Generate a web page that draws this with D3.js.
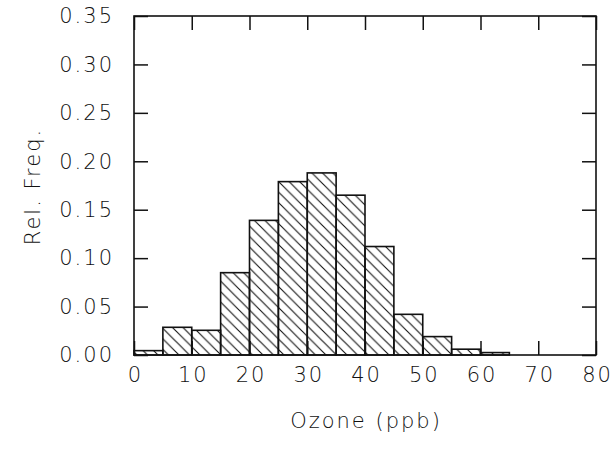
<!DOCTYPE html>
<html>
<head>
<meta charset="utf-8">
<script src="https://cdn.jsdelivr.net/npm/d3@7"></script>
<style>
  body { margin: 0; background: #fff; }
  text { font-family: "DejaVu Sans", sans-serif; font-weight: 200; fill: #111; }
</style>
</head>
<body>
<div id="chart"></div>
<script>
// histogram bins (ppb) and relative frequency
let binStarts = [0, 5, 10, 15, 20, 25, 30, 35, 40, 45, 50, 55, 60]
let binWidth = 5
let relFreq = [0.0045, 0.0286, 0.0255, 0.085, 0.139, 0.179, 0.188, 0.165, 0.112, 0.042, 0.019, 0.006, 0.0025]

let xTicks = [0, 10, 20, 30, 40, 50, 60, 70, 80]
let yTicks = [0, 0.05, 0.10, 0.15, 0.20, 0.25, 0.30, 0.35]

let margin = {top: 16, right: 18, left: 134, bottom: 100}
let width = 614 - margin.left - margin.right
let height = 455 - margin.top - margin.bottom
let fs = 21
let ls = 2

let svg = d3.select('div#chart')
  .append('svg')
    .attr('width', 614)
    .attr('height', 455)

// hatch pattern \\\
let defs = svg.append('defs')
let pat = defs.append('pattern')
  .attr('id', 'hatch')
  .attr('patternUnits', 'userSpaceOnUse')
  .attr('width', 10.5)
  .attr('height', 10.5)
pat.append('path')
  .attr('d', 'M -2,-2 L 12.5,12.5 M -2,8.5 L 2,12.5 M 8.5,-2 L 12.5,2')
  .attr('stroke', '#111')
  .attr('stroke-width', 1.1)

let g = svg.append('g')
  .attr('transform', `translate(${margin.left}, ${margin.top})`)

let x = d3.scaleLinear().domain([0, 80]).range([0, width])
let y = d3.scaleLinear().domain([0, 0.35]).range([height, 0])

let bins = binStarts.map((s, i) => ({x0: s, x1: s + binWidth, v: relFreq[i]}))

g.selectAll('rect.bar')
  .data(bins)
  .enter().append('rect')
  .attr('class', 'bar')
  .attr('x', d => x(d.x0))
  .attr('y', d => y(d.v))
  .attr('width', d => x(d.x1) - x(d.x0))
  .attr('height', d => y(0) - y(d.v))
  .attr('fill', 'url(#hatch)')
  .attr('stroke', '#111')
  .attr('stroke-width', 1.6)

// inward ticks on all four sides
let tickLen = 14
let axes = [
  d3.axisBottom(x).tickValues(xTicks).tickSize(-tickLen).tickSizeOuter(0).tickFormat(d3.format('d')),
  d3.axisTop(x).tickValues(xTicks).tickSize(-tickLen).tickSizeOuter(0).tickFormat(''),
  d3.axisLeft(y).tickValues(yTicks).tickSize(-tickLen).tickSizeOuter(0).tickFormat(d3.format('.2f')),
  d3.axisRight(y).tickValues(yTicks).tickSize(-tickLen).tickSizeOuter(0).tickFormat('')
]
let shifts = [`translate(0,${height})`, 'translate(0,0)', 'translate(0,0)', `translate(${width},0)`]

let axisGroups = axes.map((a, i) => {
  let ag = g.append('g').attr('transform', shifts[i]).call(a)
  ag.select('.domain').remove()
  ag.selectAll('.tick line').attr('stroke', '#111').attr('stroke-width', 1.5)
  ag.selectAll('text')
    .style('font-family', '"DejaVu Sans", sans-serif')
    .style('font-weight', 200)
    .attr('font-size', fs)
    .attr('fill', '#111')
    .style('letter-spacing', ls + 'px')
  return ag
})

// label placement
axisGroups[0].selectAll('.tick text').attr('y', 12).attr('dx', ls / 2)
axisGroups[2].selectAll('.tick text').attr('x', -22 + ls)

// frame
g.append('rect')
  .attr('width', width)
  .attr('height', height)
  .attr('fill', 'none')
  .attr('stroke', '#111')
  .attr('stroke-width', 1.6)

// axis titles
svg.append('text')
  .attr('x', margin.left + width / 2 + ls / 2)
  .attr('y', 428)
  .attr('text-anchor', 'middle')
  .attr('font-size', fs)
  .style('letter-spacing', ls + 'px')
  .text('Ozone (ppb)')

svg.append('text')
  .attr('transform', `translate(40, ${margin.top + height / 2 + ls / 2}) rotate(-90)`)
  .attr('text-anchor', 'middle')
  .attr('font-size', fs)
  .style('letter-spacing', ls + 'px')
  .text('Rel. Freq.')
</script>
</body>
</html>
